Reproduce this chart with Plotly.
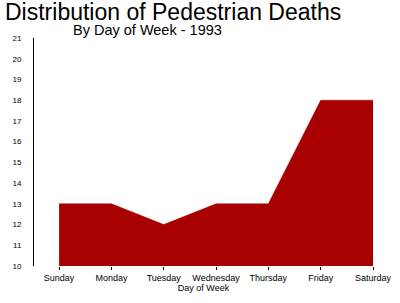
import plotly.graph_objects as go

days = ["Sunday", "Monday", "Tuesday", "Wednesday", "Thursday", "Friday", "Saturday"]
deaths = [13, 13, 12, 13, 13, 18, 18]
y_ticks = list(range(10, 22))

fig = go.Figure()
fig.add_trace(go.Scatter(
    x=list(range(len(days))), y=deaths, mode="lines",
    fill="tozeroy", fillcolor="#A80000",
    line=dict(color="#A80000", width=0.5), hoverinfo="skip"))

fig.update_layout(
    width=400, height=303,
    margin=dict(l=34, r=27, t=38, b=37, autoexpand=False),
    paper_bgcolor="white", plot_bgcolor="white",
    showlegend=False,
    font=dict(family="Liberation Sans, Arial", color="black"),
    xaxis=dict(
        range=[-0.48, 6.0], tickvals=list(range(len(days))), ticktext=days,
        showgrid=False, zeroline=False, showline=False, automargin=False,
        ticks="outside", ticklen=3, tickcolor="black", tickwidth=1,
        tickfont=dict(size=9),
        title=dict(text="Day of Week", font=dict(size=9), standoff=1)),
    yaxis=dict(
        range=[10, 21], tickvals=y_ticks, automargin=False,
        showgrid=False, zeroline=False, showline=True, linecolor="black", linewidth=1,
        ticks="", tickfont=dict(size=8), ticklabelstandoff=10),
    annotations=[
        dict(text="Distribution of Pedestrian Deaths", xref="paper", yref="paper",
             x=-34/339, y=1 + 38/228, xanchor="left", yanchor="top", showarrow=False,
             xshift=3, yshift=3, font=dict(size=23, color="black")),
        dict(text="By Day of Week - 1993", xref="paper", yref="paper",
             x=-34/339, y=1 + 38/228, xanchor="left", yanchor="top", showarrow=False,
             xshift=71, yshift=-20, font=dict(size=14.5, color="black")),
    ],
)

fig.write_html("out.html")
